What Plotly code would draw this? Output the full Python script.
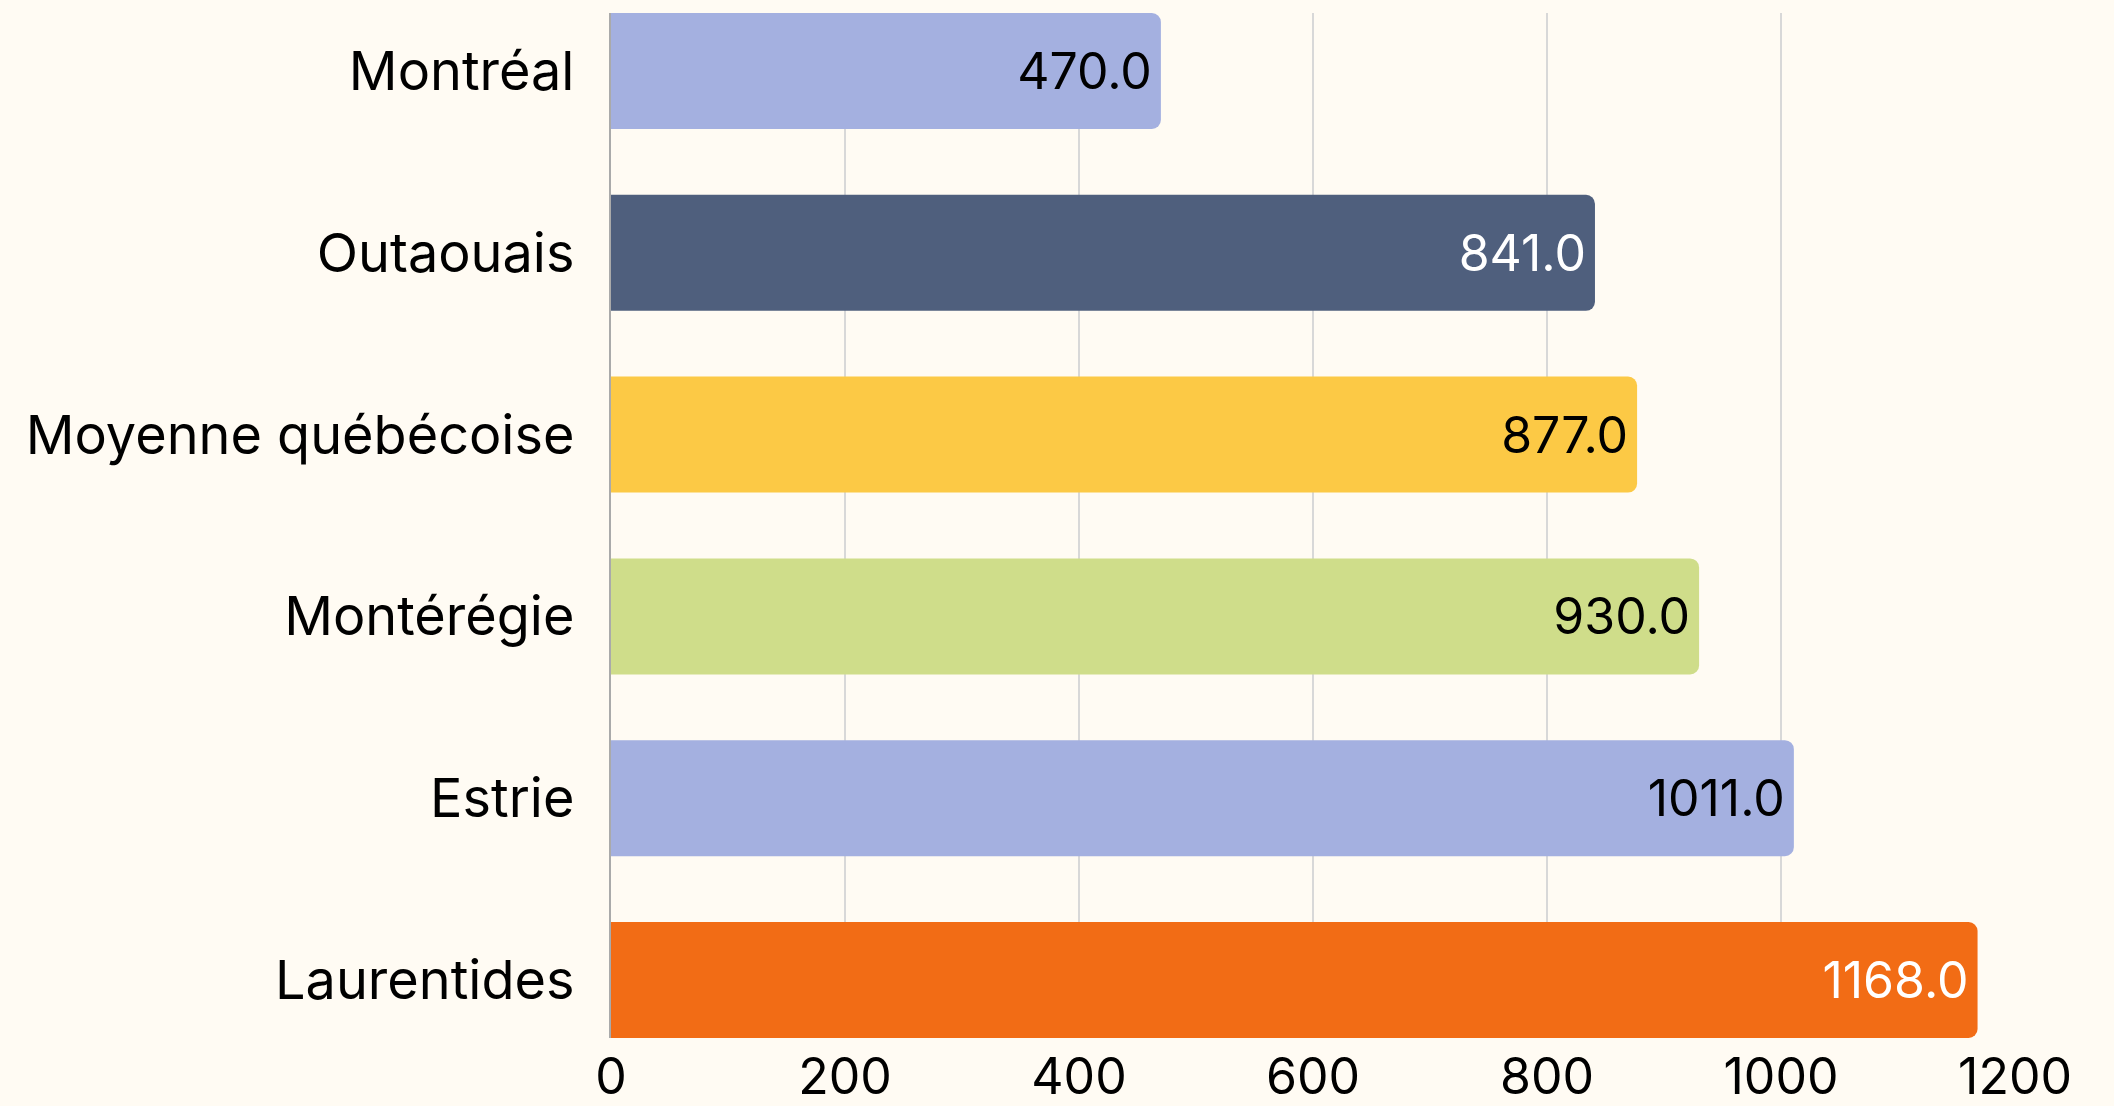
import plotly.graph_objects as go

# Données (de bas en haut)
regions = ["Laurentides", "Estrie", "Montérégie", "Moyenne québécoise", "Outaouais", "Montréal"]
valeurs = [1168.0, 1011.0, 930.0, 877.0, 841.0, 470.0]
couleurs = ["#F26C15", "#A4B0E0", "#CFDD8A", "#FCC945", "#4F5F7D", "#A4B0E0"]
textes = [f"{v:.1f}" for v in valeurs]
couleurs_texte = ["white", "black", "black", "black", "white", "black"]

police = "Inter"

fig = go.Figure(go.Bar(
    x=valeurs,
    y=regions,
    orientation="h",
    marker=dict(color=couleurs, line=dict(width=0)),
    text=textes,
    textposition="inside",
    insidetextanchor="end",
    textfont=dict(family=police, size=50, color=couleurs_texte),
    hoverinfo="skip",
))

fig.update_layout(
    width=2114, height=1106,
    margin=dict(l=611, r=99, t=13, b=68),
    paper_bgcolor="#FFFBF3",
    plot_bgcolor="#FFFBF3",
    bargap=0.362,
    barcornerradius=9,
    showlegend=False,
    font=dict(family=police, size=50, color="black"),
)

fig.update_xaxes(
    range=[0, 1200],
    tickvals=[0, 200, 400, 600, 800, 1000, 1200],
    showgrid=True, gridcolor="#D8D8D8", gridwidth=1.5,
    zeroline=False,
    showline=False,
    ticks="", ticklabelstandoff=5,
    automargin=False,
    tickfont=dict(family=police, size=50, color="black"),
)

fig.update_yaxes(
    range=[-0.319, 5.319],
    showgrid=False,
    showline=True, linecolor="#AAAAAA", linewidth=1.5,
    ticks="", ticklabelstandoff=24,
    automargin=False,
    tickfont=dict(family=police, size=54, color="black"),
)

# pas de marge autour de la page
fig.write_html("out.html", config={"displayModeBar": False},
               post_script="document.body.style.margin='0';document.body.style.background='#FFFBF3';")
